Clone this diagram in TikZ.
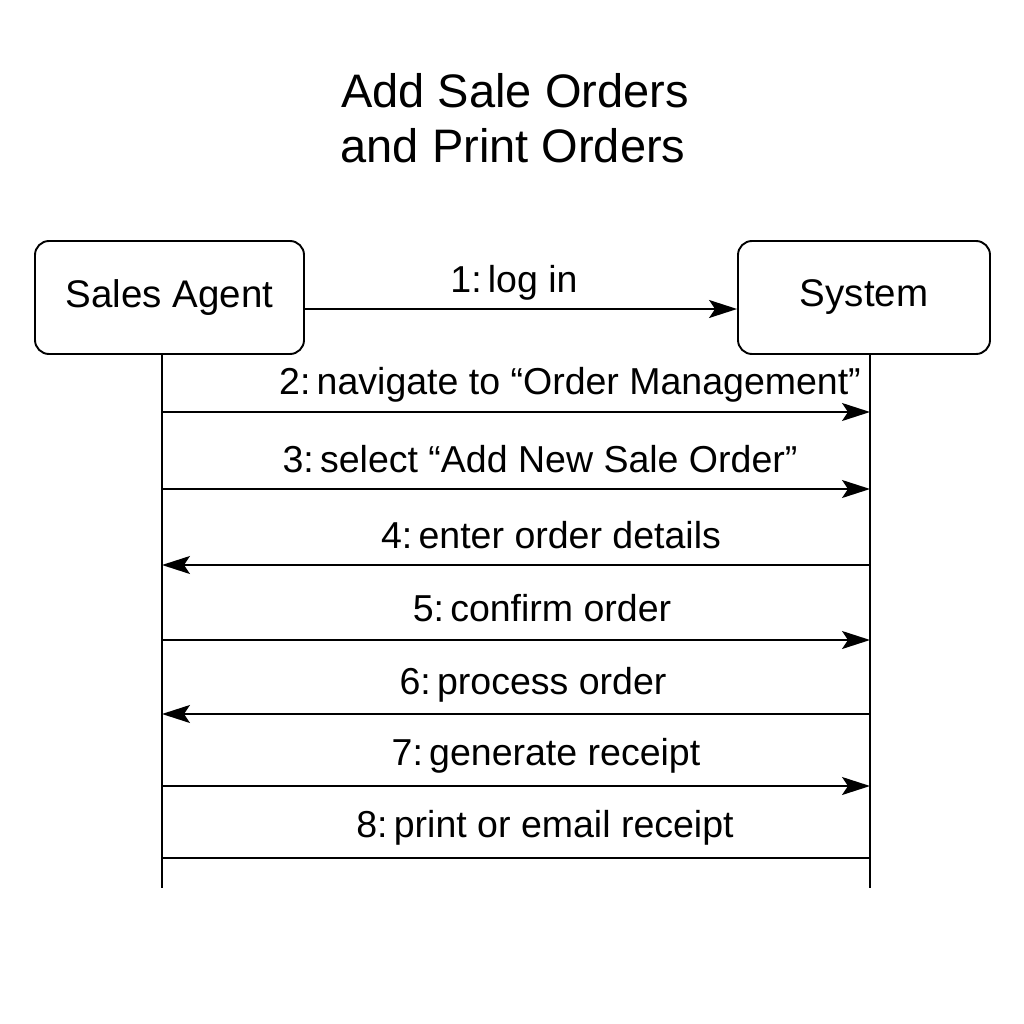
\documentclass[tikz,border=0pt]{standalone}
\usepackage{fontspec}
\setmainfont{Liberation Sans}
\usetikzlibrary{arrows.meta}
\begin{document}
\begin{tikzpicture}[x=1pt,y=-1pt,
  actor/.style={draw,line width=1.9pt,rounded corners=14pt,minimum width=#1,minimum height=113pt,inner sep=0pt,font=\fontsize{38.5}{40}\selectfont},
  msg/.style={line width=1.7pt,-{Stealth[length=28pt,width=18pt,inset=6pt]}},
  plain/.style={line width=1.7pt},
  life/.style={line width=1.7pt},
  lbl/.style={anchor=base,inner sep=0pt,font=\fontsize{37.5}{40}\selectfont}]
\useasboundingbox (0,0) rectangle (1024,1024);
\node[font=\fontsize{47}{55}\selectfont,anchor=base,inner sep=0pt] (title) at (515,108) {Add Sale Orders};
\node[font=\fontsize{47}{55}\selectfont,anchor=base,inner sep=0pt] (title2) at (513,163) {and Print Orders};
\node[actor=269pt] (agent) at (169.5,297.5) {Sales Agent};
\node[actor=252pt] (system) at (864,297.5) {System};
% lifelines
\coordinate (aend) at (162,888);
\coordinate (send) at (870,888);
\coordinate (atop) at (162,354);
\coordinate (stop) at (870,354);
\draw[life] (atop) -- (aend);
\draw[life] (stop) -- (send);
% message coordinates
\foreach \i/\y in {2/412,3/489,4/565,5/640,6/714,7/786,8/858}{
  \coordinate (a\i) at (162,\y);
  \coordinate (s\i) at (870,\y);
}
\coordinate (a1) at (agent.east |- 0,309);
\coordinate (s1) at (system.west |- 0,309);
\draw[msg] (a1) -- (s1);
\draw[msg] (a2) -- (s2);
\draw[msg] (a3) -- (s3);
\draw[msg] (s4) -- (a4);
\draw[msg] (a5) -- (s5);
\draw[msg] (s6) -- (a6);
\draw[msg] (a7) -- (s7);
\draw[plain] (a8) -- (s8);
% labels
\node[lbl] (l1) at (514,292) {1:\,log in};
\node[lbl] (l2) at (570,394) {2:\,navigate to “Order Management”};
\node[lbl] (l3) at (540,472) {3:\,select “Add New Sale Order”};
\node[lbl] (l4) at (551,548) {4:\,enter order details};
\node[lbl] (l5) at (542,621) {5:\,confirm order};
\node[lbl] (l6) at (533,694) {6:\,process order};
\node[lbl] (l7) at (546,765) {7:\,generate receipt};
\node[lbl] (l8) at (545,837) {8:\,print or email receipt};
\end{tikzpicture}
\end{document}
